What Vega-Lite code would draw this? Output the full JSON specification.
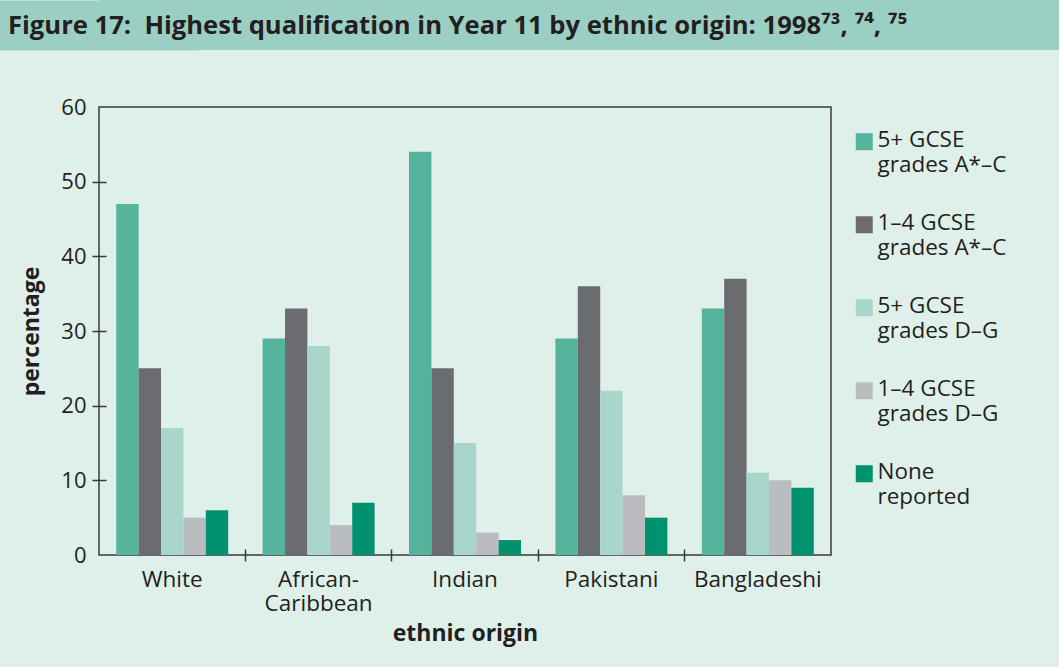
{
  "$schema": "https://vega.github.io/schema/vega-lite/v6.json",
  "background": "#dff0ea",
  "padding": {"left": 0, "top": 0, "right": 0, "bottom": 20},
  "config": {
    "font": "Open Sans",
    "view": {"stroke": null}
  },
  "columns": 1,
  "spacing": 42,
  "resolve": {"legend": {"color": "independent"}, "scale": {"color": "independent"}},
  "concat": [
    {
      "width": 960,
      "height": 50,
      "view": {"fill": "#9ccfc3", "stroke": null},
      "title": {
        "text": "Figure 17:\u00a0 Highest qualification in Year 11 by ethnic origin: 1998⁷³, ⁷⁴, ⁷⁵",
        "anchor": "start",
        "orient": "bottom",
        "frame": "group",
        "offset": -19,
        "baseline": "alphabetic",
        "dx": -91,
        "fontSize": 25.6,
        "fontWeight": "bold",
        "color": "#231f20"
      },
      "data": {"values": [{}]},
      "mark": {"type": "point", "opacity": 0},
      "encoding": {
        "y": {
          "datum": 0,
          "type": "quantitative",
          "scale": {"domain": [0, 1]},
          "axis": {
            "title": null,
            "labels": false,
            "ticks": false,
            "grid": false,
            "domain": true,
            "domainColor": "#9ccfc3",
            "domainWidth": 200,
            "domainCap": "butt"
          }
        }
      }
    },
    {
      "width": 732,
      "height": 448,
      "view": {"stroke": "#3a3a3a", "strokeWidth": 1.5},
      "data": {
        "values": [
          {"origin": "White", "qual": "5+ GCSE grades A*–C", "pct": 47},
          {"origin": "White", "qual": "1–4 GCSE grades A*–C", "pct": 25},
          {"origin": "White", "qual": "5+ GCSE grades D–G", "pct": 17},
          {"origin": "White", "qual": "1–4 GCSE grades D–G", "pct": 5},
          {"origin": "White", "qual": "None reported", "pct": 6},
          {"origin": "African-Caribbean", "qual": "5+ GCSE grades A*–C", "pct": 29},
          {"origin": "African-Caribbean", "qual": "1–4 GCSE grades A*–C", "pct": 33},
          {"origin": "African-Caribbean", "qual": "5+ GCSE grades D–G", "pct": 28},
          {"origin": "African-Caribbean", "qual": "1–4 GCSE grades D–G", "pct": 4},
          {"origin": "African-Caribbean", "qual": "None reported", "pct": 7},
          {"origin": "Indian", "qual": "5+ GCSE grades A*–C", "pct": 54},
          {"origin": "Indian", "qual": "1–4 GCSE grades A*–C", "pct": 25},
          {"origin": "Indian", "qual": "5+ GCSE grades D–G", "pct": 15},
          {"origin": "Indian", "qual": "1–4 GCSE grades D–G", "pct": 3},
          {"origin": "Indian", "qual": "None reported", "pct": 2},
          {"origin": "Pakistani", "qual": "5+ GCSE grades A*–C", "pct": 29},
          {"origin": "Pakistani", "qual": "1–4 GCSE grades A*–C", "pct": 36},
          {"origin": "Pakistani", "qual": "5+ GCSE grades D–G", "pct": 22},
          {"origin": "Pakistani", "qual": "1–4 GCSE grades D–G", "pct": 8},
          {"origin": "Pakistani", "qual": "None reported", "pct": 5},
          {"origin": "Bangladeshi", "qual": "5+ GCSE grades A*–C", "pct": 33},
          {"origin": "Bangladeshi", "qual": "1–4 GCSE grades A*–C", "pct": 37},
          {"origin": "Bangladeshi", "qual": "5+ GCSE grades D–G", "pct": 11},
          {"origin": "Bangladeshi", "qual": "1–4 GCSE grades D–G", "pct": 10},
          {"origin": "Bangladeshi", "qual": "None reported", "pct": 9}
        ]
      },
      "layer": [
        {
          "mark": {"type": "bar"},
          "encoding": {
            "x": {
              "field": "origin",
              "type": "nominal",
              "sort": ["White", "African-Caribbean", "Indian", "Pakistani", "Bangladeshi"],
              "scale": {"paddingInner": 0.235, "paddingOuter": 0.1175},
              "axis": {
                "orient": "bottom",
                "title": "ethnic origin",
                "ticks": false,
                "domain": false,
                "labelAngle": 0,
                "labelFontSize": 22.5,
                "labelColor": "#231f20",
                "labelPadding": 13,
                "labelLineHeight": 24,
                "labelExpr": "datum.label === 'African-Caribbean' ? ['African-', 'Caribbean'] : datum.label",
                "titleFontSize": 23,
                "titleFontWeight": "bold",
                "titleColor": "#231f20",
                "titlePadding": 8
              }
            },
            "xOffset": {
              "field": "qual",
              "type": "nominal",
              "sort": ["5+ GCSE grades A*–C", "1–4 GCSE grades A*–C", "5+ GCSE grades D–G", "1–4 GCSE grades D–G", "None reported"],
              "scale": {"paddingInner": 0, "paddingOuter": 0}
            },
            "y": {
              "field": "pct",
              "type": "quantitative",
              "scale": {"domain": [0, 60], "nice": false},
              "axis": {
                "title": ["", "percentage"],
                "titleLineHeight": 20,
                "titleFontSize": 23,
                "titleFontWeight": "bold",
                "titleColor": "#231f20",
                "titlePadding": 17,
                "values": [0, 10, 20, 30, 40, 50, 60],
                "grid": false,
                "domain": false,
                "offset": -7,
                "tickSize": 14,
                "tickColor": "#3a3a3a",
                "tickWidth": 1.5,
                "tickOpacity": {"condition": {"test": "datum.value === 0 || datum.value === 60", "value": 0}, "value": 1},
                "labelFontSize": 22,
                "labelColor": "#231f20",
                "labelPadding": 6
              }
            },
            "color": {
              "field": "qual",
              "type": "nominal",
              "sort": ["5+ GCSE grades A*–C", "1–4 GCSE grades A*–C", "5+ GCSE grades D–G", "1–4 GCSE grades D–G", "None reported"],
              "scale": {
                "domain": ["5+ GCSE grades A*–C", "1–4 GCSE grades A*–C", "5+ GCSE grades D–G", "1–4 GCSE grades D–G", "None reported"],
                "range": ["#56b49d", "#6b6c70", "#a9d6cb", "#bbbcc0", "#00926e"]
              },
              "legend": {
                "title": null,
                "orient": "none",
                "legendX": 754,
                "legendY": 11,
                "padding": 0,
                "symbolType": "M-1,0.47H1V2.47H-1Z",
                "symbolSize": 289,
                "symbolStrokeWidth": 0,
                "rowPadding": 24,
                "labelOffset": 2,
                "labelFontSize": 22.5,
                "labelColor": "#231f20",
                "labelLimit": 300,
                "labelBaseline": "top",
                "labelLineHeight": 24,
                "labelExpr": "indexof(datum.label, ' grades') > 0 ? [substring(datum.label, 0, indexof(datum.label, ' grades')), substring(datum.label, indexof(datum.label, ' grades') + 1)] : split(datum.label, ' ')"
              }
            }
          }
        },
        {
          "mark": {"type": "bar", "opacity": 0},
          "encoding": {
            "x": {
              "field": "origin",
              "type": "nominal",
              "sort": ["White", "African-Caribbean", "Indian", "Pakistani", "Bangladeshi"],
              "axis": {
                "orient": "bottom",
                "title": null,
                "labels": false,
                "domain": false,
                "ticks": true,
                "bandPosition": -0.1536,
                "offset": -6,
                "tickSize": 12,
                "tickColor": "#3a3a3a",
                "tickWidth": 1.5,
                "tickOpacity": {"condition": {"test": "datum.value === 'White'", "value": 0}, "value": 1}
              }
            },
            "xOffset": {
              "field": "qual",
              "type": "nominal",
              "sort": ["5+ GCSE grades A*–C", "1–4 GCSE grades A*–C", "5+ GCSE grades D–G", "1–4 GCSE grades D–G", "None reported"]
            },
            "y": {"field": "pct", "type": "quantitative"}
          }
        }
      ],
      "resolve": {"axis": {"x": "independent"}}
    }
  ]
}
